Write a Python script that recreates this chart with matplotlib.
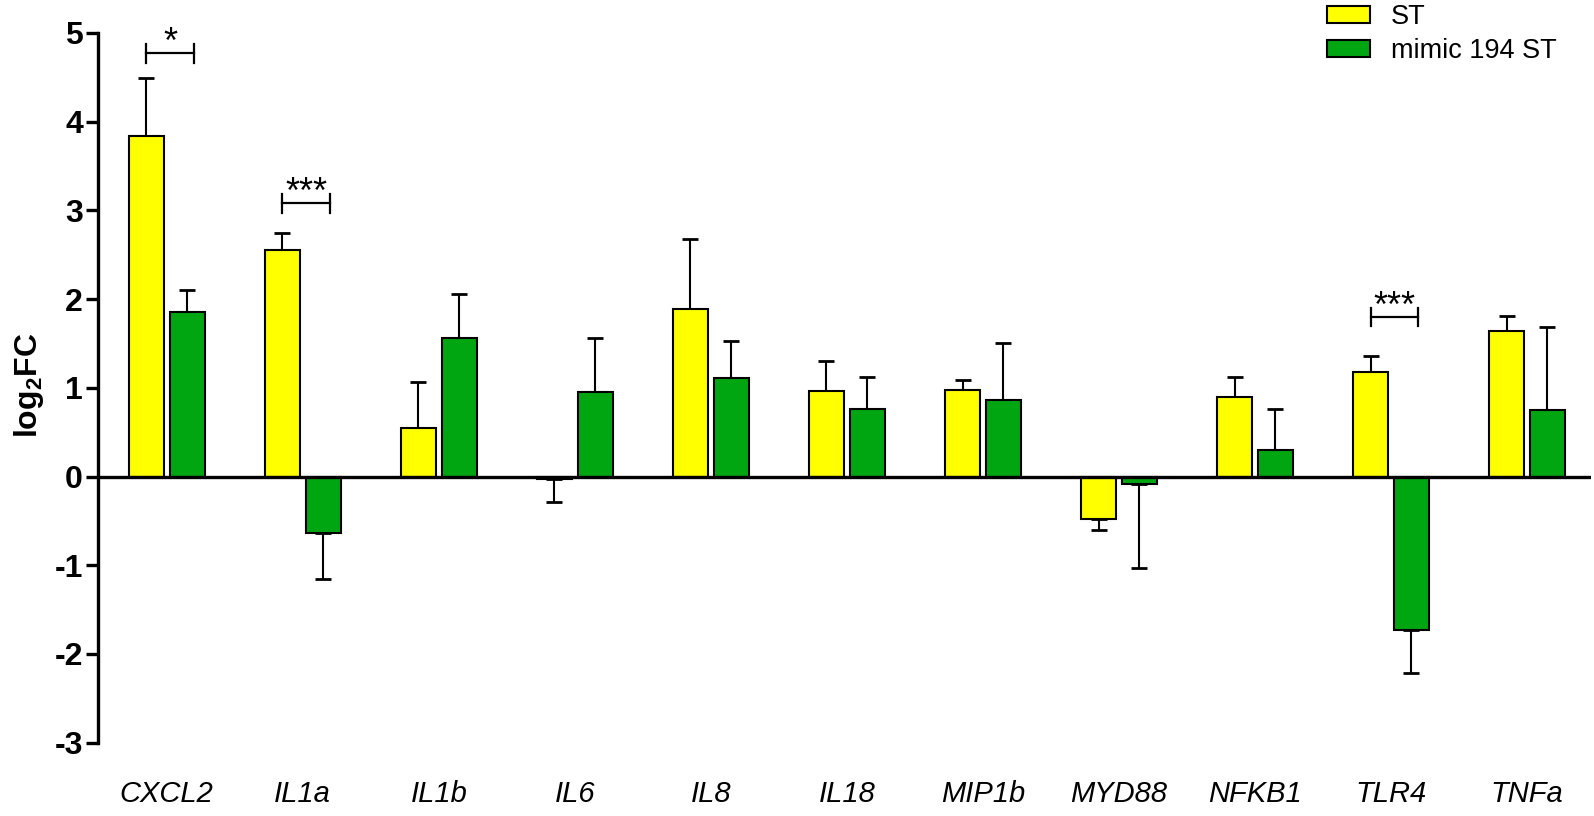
import numpy as np
import matplotlib
matplotlib.use('Agg')
import matplotlib.pyplot as plt

plt.rcParams['font.family'] = ['Liberation Sans', 'DejaVu Sans']
plt.rcParams['mathtext.fontset'] = 'custom'
plt.rcParams['mathtext.bf'] = 'Liberation Sans:bold'
plt.rcParams['mathtext.rm'] = 'Liberation Sans'

# data (log2 fold change, one-sided SD)
genes = ['CXCL2', 'IL1a', 'IL1b', 'IL6', 'IL8', 'IL18', 'MIP1b', 'MYD88', 'NFKB1', 'TLR4', 'TNFa']
st_vals = [3.84, 2.55, 0.55, -0.03, 1.89, 0.96, 0.97, -0.48, 0.90, 1.18, 1.64]
st_err = [0.65, 0.19, 0.51, 0.26, 0.79, 0.34, 0.12, 0.12, 0.22, 0.18, 0.17]
mimic_vals = [1.86, -0.64, 1.56, 0.95, 1.11, 0.76, 0.86, -0.08, 0.30, -1.73, 0.75]
mimic_err = [0.24, 0.52, 0.50, 0.61, 0.42, 0.36, 0.65, 0.95, 0.46, 0.48, 0.93]

# significance brackets
sig_idx = [0, 1, 9]
sig_y = [4.77, 3.08, 1.80]
sig_txt = ['*', '***', '***']

series_labels = ['ST', 'mimic 194 ST']
yellow = '#ffff00'
green = '#00a612'

fig = plt.figure(figsize=(15.94, 8.16), dpi=100)
ax = fig.add_axes([98.3 / 1594, 1 - 742.6 / 816, (1591 - 98.3) / 1594, (742.6 - 33) / 816])

x = np.arange(len(genes))
w = 0.258
off = 0.15


def one_sided(vals, err):
    vals = np.array(vals)
    err = np.array(err)
    lower = np.where(vals < 0, err, 0)
    upper = np.where(vals >= 0, err, 0)
    return [lower, upper]


b1 = ax.bar(x - off, st_vals, w, color=yellow, edgecolor='black', linewidth=1.5, label=series_labels[0], zorder=3)
b2 = ax.bar(x + off, mimic_vals, w, color=green, edgecolor='black', linewidth=1.5, label=series_labels[1], zorder=3)
ax.errorbar(x - off, st_vals, yerr=one_sided(st_vals, st_err), fmt='none', ecolor='black',
            elinewidth=1.5, capsize=6, capthick=2, zorder=2)
ax.errorbar(x + off, mimic_vals, yerr=one_sided(mimic_vals, mimic_err), fmt='none', ecolor='black',
            elinewidth=1.5, capsize=6, capthick=2, zorder=2)

# zero line acts as x axis
ax.axhline(0, color='black', linewidth=2.4, zorder=4)

# significance brackets
for i, yv, t in zip(sig_idx, sig_y, sig_txt):
    x0, x1 = i - 0.15, i + 0.2
    ax.plot([x0, x1], [yv, yv], color='black', lw=1.6)
    ax.plot([x0, x0], [yv - 0.105, yv + 0.105], color='black', lw=1.6)
    ax.plot([x1, x1], [yv - 0.105, yv + 0.105], color='black', lw=1.6)
    ax.text((x0 + x1) / 2, yv, t, ha='center', va='baseline', fontsize=26)

ax.set_xlim(-0.503, 10.47)
ax.set_ylim(-3, 5)
ax.set_yticks(range(-3, 6))
ax.set_yticklabels([str(v) for v in range(-3, 6)], fontsize=23, fontweight='bold')
ax.set_xticks(x)
ax.set_xticklabels(genes, fontsize=21, style='italic')
ax.tick_params(axis='x', length=0, pad=27)
ax.tick_params(axis='y', length=9, width=2.4, pad=2)

ax.spines['top'].set_visible(False)
ax.spines['right'].set_visible(False)
ax.spines['bottom'].set_visible(False)
ax.spines['left'].set_linewidth(2.4)

ax.set_ylabel(r'$\mathbf{log_{2}FC}$', fontsize=23)
ax.yaxis.set_label_coords(-0.035, 0.503)

fig.legend(handles=[b1, b2], loc='upper left', bbox_to_anchor=(1327 / 1594, 1 - 4 / 816),
           frameon=False, fontsize=19.5, handlelength=1.6, handleheight=0.57,
           handletextpad=0.75, labelspacing=0.3, borderpad=0, borderaxespad=0)

plt.savefig('out.png', dpi=100)
